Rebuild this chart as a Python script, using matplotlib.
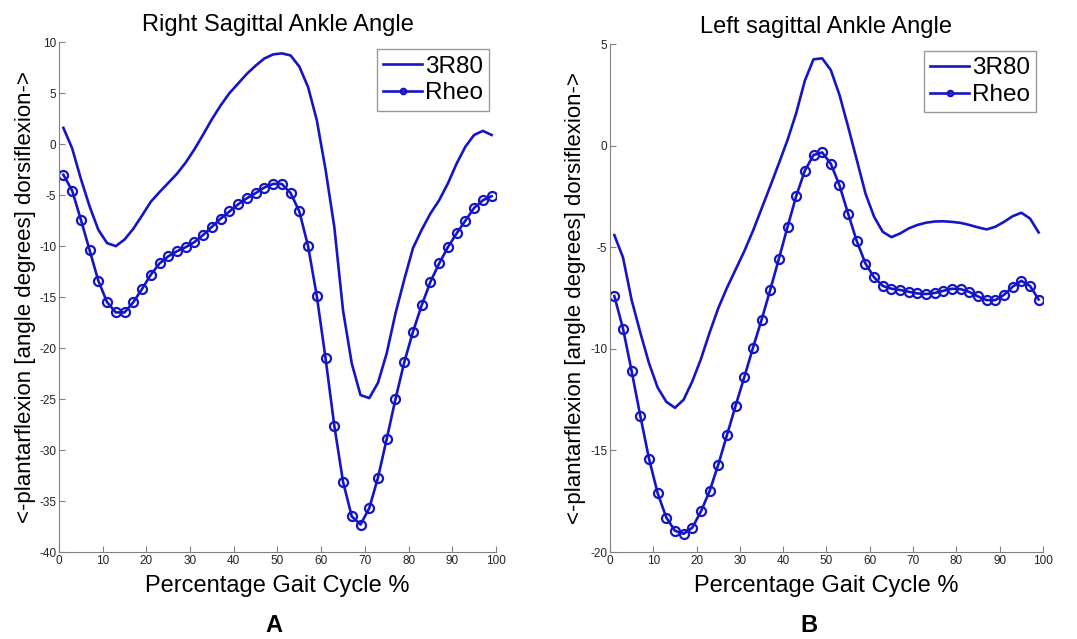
import numpy as np
import matplotlib
matplotlib.use('Agg')
import matplotlib.pyplot as plt

plt.rcParams['font.family'] = ['Liberation Sans', 'DejaVu Sans']
plt.rcParams['axes.unicode_minus'] = False

# gait cycle samples (every 2 %)
pct = list(range(1, 100, 2))

# Right ankle
right_3r80 = [1.6, -0.4, -3.4, -6.1, -8.4, -9.7, -10.0, -9.35, -8.3, -7.0,
              -5.65, -4.7, -3.8, -2.9, -1.8, -0.5, 0.95, 2.45, 3.8, 5.0,
              5.95, 6.9, 7.7, 8.4, 8.8, 8.9, 8.7, 7.6, 5.6, 2.35,
              -2.5, -8.1, -16.3, -21.5, -24.6, -24.9, -23.4, -20.5, -16.6, -13.3,
              -10.2, -8.4, -6.8, -5.5, -3.85, -1.9, -0.25, 0.9, 1.3, 0.9]
right_rheo = [-3.0, -4.55, -7.4, -10.4, -13.4, -15.5, -16.5, -16.5, -15.5, -14.2,
              -12.8, -11.7, -11.0, -10.5, -10.1, -9.6, -8.9, -8.1, -7.3, -6.6,
              -5.9, -5.3, -4.8, -4.25, -3.9, -3.9, -4.8, -6.6, -10.0, -14.9,
              -21.0, -27.6, -33.1, -36.5, -37.3, -35.7, -32.7, -28.9, -25.0, -21.4,
              -18.4, -15.8, -13.5, -11.7, -10.1, -8.75, -7.5, -6.25, -5.5, -5.1]

# Left ankle
left_3r80 = [-4.4, -5.5, -7.6, -9.2, -10.7, -11.9, -12.6, -12.9, -12.5, -11.6,
             -10.5, -9.2, -8.0, -7.0, -6.1, -5.2, -4.2, -3.1, -2.0, -0.87,
             0.28, 1.6, 3.2, 4.25, 4.3, 3.72, 2.5, 0.93, -0.7, -2.35,
             -3.5, -4.24, -4.5, -4.32, -4.07, -3.9, -3.79, -3.73, -3.72, -3.75,
             -3.8, -3.9, -4.02, -4.12, -3.99, -3.75, -3.47, -3.3, -3.58, -4.27]
left_rheo = [-7.4, -9.0, -11.1, -13.3, -15.4, -17.1, -18.3, -18.95, -19.1, -18.8,
             -18.0, -17.0, -15.7, -14.25, -12.8, -11.4, -9.96, -8.57, -7.1, -5.57,
             -4.0, -2.48, -1.23, -0.46, -0.33, -0.89, -1.95, -3.35, -4.7, -5.8,
             -6.48, -6.9, -7.04, -7.1, -7.19, -7.27, -7.3, -7.25, -7.14, -7.04,
             -7.06, -7.2, -7.42, -7.6, -7.6, -7.34, -6.94, -6.65, -6.9, -7.57]

titles = ['Right Sagittal Ankle Angle', 'Left sagittal Ankle Angle']
panel_tags = ['A', 'B']
ylims = [(-40, 10), (-20, 5)]
yticks = [np.arange(-40, 11, 5), np.arange(-20, 6, 5)]

BLUE = '#1515c8'
GREY = '#808080'

fig = plt.figure(figsize=(10.77, 6.39), dpi=100)
fig.patch.set_facecolor('white')
rects = [[0.0548, 0.136, 0.4057, 0.798], [0.5664, 0.136, 0.402, 0.795]]
data = [(right_3r80, right_rheo), (left_3r80, left_rheo)]
tag_x = [0.254, 0.751]

for i, rect in enumerate(rects):
    ax = fig.add_axes(rect)
    s1, s2 = data[i]
    ax.plot(pct, s1, color=BLUE, lw=1.9, label='3R80')
    ax.plot(pct, s2, color=BLUE, lw=1.9, marker='o', ms=6.5, mfc='none',
            mew=1.6, label='Rheo')
    ax.set_xlim(0, 100)
    ax.set_ylim(*ylims[i])
    ax.set_xticks(range(0, 101, 10))
    ax.set_yticks(yticks[i])
    ax.tick_params(direction='in', length=4, width=0.8, color=GREY,
                   labelsize=8.5, labelcolor='#222222', pad=2)
    ax.spines[['top', 'right']].set_visible(False)
    ax.spines[['bottom', 'left']].set_color(GREY)
    ax.set_title(titles[i], fontsize=17, pad=8)
    ax.set_xlabel('Percentage Gait Cycle %', fontsize=17, labelpad=6)
    ax.set_ylabel('<-plantarflexion [angle degrees] dorsiflexion->', fontsize=16,
                  labelpad=2 if i == 0 else 3)
    leg = ax.legend(loc='upper right', fontsize=17.5, frameon=True, fancybox=False,
                    edgecolor=GREY, handlelength=1.6, handletextpad=0.1,
                    borderpad=0.25, labelspacing=0.2, markerscale=0.6,
                    borderaxespad=0.3)
    leg.get_frame().set_linewidth(1.0)
    fig.text(tag_x[i], 1 - 626 / 639, panel_tags[i], ha='center', va='center',
             fontsize=17, fontweight='bold')

plt.savefig('out.png', dpi=100, facecolor='white')
plt.close()
